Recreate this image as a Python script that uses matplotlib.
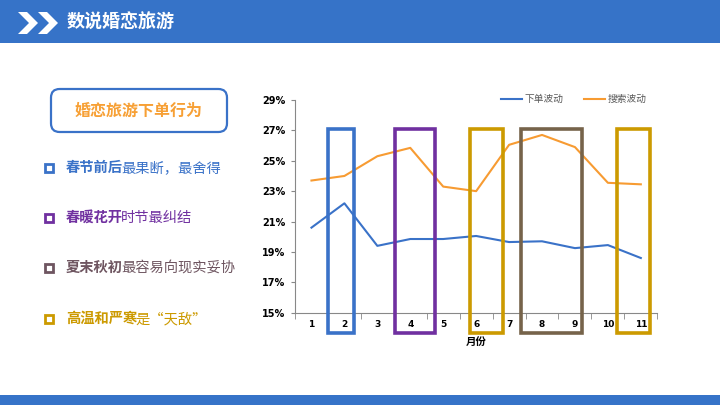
import matplotlib
matplotlib.use("Agg")
import matplotlib.pyplot as plt
from matplotlib.patches import Rectangle, FancyBboxPatch, Polygon
import numpy as np

plt.rcParams['font.family'] = ['Noto Sans CJK SC', 'DejaVu Sans']

# data
months = np.arange(1, 12)
month_labels = [str(m) for m in months]
order_wave = [20.6, 22.2, 19.4, 19.85, 19.85, 20.05, 19.65, 19.7, 19.25, 19.45, 18.6]
search_wave = [23.7, 24.0, 25.3, 25.85, 23.3, 23.0, 26.05, 26.7, 25.9, 23.55, 23.45]
y_ticks = [15, 17, 19, 21, 23, 25, 27, 29]

# highlight boxes: (start month, end month, colour)
box_ranges = [(1.5, 2.3), (3.54, 4.74), (5.8, 6.81), (7.35, 9.22), (10.27, 11.27)]
box_colors = ['#3A72C8', '#7030A0', '#CC9A00', '#76634A', '#CC9A00']

title = '数说婚恋旅游'
subtitle = '婚恋旅游下单行为'
bullets_bold = ['春节前后', '春暖花开', '夏末秋初', '高温和严寒']
bullets_rest = ['最果断，最舍得', '时节最纠结', '最容易向现实妥协', '是“天敌”']
bullet_colors = ['#3A72C8', '#7030A0', '#6E5560', '#CC9A00']

BLUE = '#3673C8'
ORANGE = '#F7A035'

fig = plt.figure(figsize=(7.2, 4.05), dpi=100)
W, H = 720, 405

def fx(px):
    return px / W

def fy(py):
    return 1 - py / H

# background overlay for slide decorations
bg = fig.add_axes([0, 0, 1, 1])
bg.set_xlim(0, 1)
bg.set_ylim(0, 1)
bg.axis('off')

bg.add_patch(Rectangle((0, fy(43)), 1, 43 / H, color=BLUE, lw=0))
bg.add_patch(Rectangle((0, 0), 1, 10 / H, color=BLUE, lw=0))

# chevrons in header
for x0 in [18, 38]:
    pts = [(x0, 12), (x0 + 9, 12), (x0 + 20, 23), (x0 + 9, 34), (x0, 34), (x0 + 11, 23)]
    bg.add_patch(Polygon([(fx(a), fy(b)) for a, b in pts], closed=True, color='white', lw=0))

bg.text(fx(67), fy(22), title, color='white', fontsize=13, fontweight='bold',
        va='center', ha='left')

# subtitle box
bg.add_patch(FancyBboxPatch((fx(51), fy(132)), fx(176), 43 / H,
                            boxstyle='round,pad=0,rounding_size=0.012',
                            fc='white', ec='#3A72C8', lw=1.6, mutation_aspect=W / H))
bg.text(fx(139), fy(111), subtitle, color=ORANGE, fontsize=11.5, fontweight='bold',
        ha='center', va='center')

# bullets
bullet_y = [168, 218, 268, 319]
for yy, b1, b2, c in zip(bullet_y, bullets_bold, bullets_rest, bullet_colors):
    bg.add_patch(Rectangle((fx(45), fy(yy + 4)), fx(8), 8 / H, fc='none', ec=c, lw=2))
    t1 = bg.text(fx(66), fy(yy), b1, color=c, fontsize=10.3, fontweight='bold',
                 ha='left', va='center')
    bg.annotate(b2, xy=(1, 0.5), xycoords=t1, xytext=(-1.5, 0), textcoords='offset points',
                color=c, fontsize=10.3, ha='left', va='center')

# chart
ax = fig.add_axes([fx(295), fy(312.7), fx(362.3), (312.7 - 100) / H])
ax.plot(months, order_wave, color='#3A72C8', lw=1.5, label='下单波动')
ax.plot(months, search_wave, color='#F79B32', lw=1.5, label='搜索波动')
ax.set_xlim(0.5, 11.5)
ax.set_ylim(15, 29)
ax.set_yticks(y_ticks)
ax.set_yticklabels([f'{v}%' for v in y_ticks], fontsize=7, fontweight='bold',
                   family=['DejaVu Sans'])
ax.set_xticks(months)
ax.set_xticklabels(month_labels, fontsize=6.5, fontweight='bold', family=['DejaVu Sans'])
ax.set_xticks(np.arange(0.5, 12, 1), minor=True)
ax.tick_params(axis='x', which='major', length=0, pad=5)
ax.tick_params(axis='x', which='minor', length=4, color='#888888', direction='out')
ax.tick_params(axis='y', length=3, color='#888888', pad=4)
for s in ['top', 'right']:
    ax.spines[s].set_visible(False)
for s in ['left', 'bottom']:
    ax.spines[s].set_color('#888888')
    ax.spines[s].set_linewidth(0.8)
ax.set_xlabel('月份', fontsize=7.5, fontweight='bold', labelpad=6)

for (a, b), c in zip(box_ranges, box_colors):
    ax.add_patch(Rectangle((a, 13.66), b - a, 27.09 - 13.66, fc='none', ec=c,
                           lw=2.6, clip_on=False, zorder=5))

leg = ax.legend(loc='upper right', bbox_to_anchor=(0.97, 1.027), ncol=2, frameon=False,
                fontsize=7, handlelength=2.1, columnspacing=2.1, handletextpad=0.3,
                borderaxespad=0, borderpad=0)
for t in leg.get_texts():
    t.set_color('#595959')

fig.savefig('out.png', dpi=100)
